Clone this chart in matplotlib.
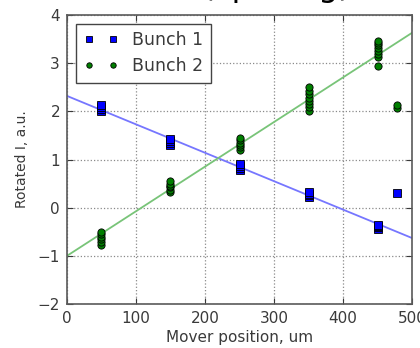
import numpy as np
import matplotlib
matplotlib.use("Agg")
import matplotlib.pyplot as plt

# Mover positions (um) and rotated intensity per bunch
pos_b1 = [50, 50, 50, 50, 150, 150, 150, 150, 250, 250, 250, 250,
          350, 350, 350, 350, 450, 450, 450, 450, 478]
val_b1 = [2.00, 2.05, 2.10, 2.13, 1.30, 1.35, 1.38, 1.42, 0.78, 0.82, 0.86, 0.90,
          0.22, 0.26, 0.29, 0.32, -0.45, -0.41, -0.38, -0.35, 0.30]

pos_b2 = [50, 50, 50, 50, 50, 50,
          150, 150, 150, 150, 150, 150,
          250, 250, 250, 250, 250, 250,
          350, 350, 350, 350, 350, 350, 350, 350,
          450, 450, 450, 450, 450, 450, 450, 450,
          478, 478]
val_b2 = [-0.78, -0.72, -0.65, -0.60, -0.55, -0.50,
          0.32, 0.37, 0.42, 0.46, 0.50, 0.55,
          1.20, 1.25, 1.30, 1.35, 1.40, 1.45,
          2.00, 2.08, 2.15, 2.22, 2.28, 2.35, 2.43, 2.50,
          2.95, 3.12, 3.20, 3.26, 3.32, 3.37, 3.42, 3.46,
          2.06, 2.14]

# Linear fits: intercept, slope
fit_b1 = (2.32, -0.0059)
fit_b2 = (-1.00, 0.00926)

xlim = (0, 500)
ylim = (-2, 4)
xticks = [0, 100, 200, 300, 400, 500]
yticks = [-2, -1, 0, 1, 2, 3, 4]

fig = plt.figure(figsize=(4.2, 3.48), dpi=100)
ax = fig.add_axes([0.1595, 0.1264, 0.8215, 0.8305])

xx = np.array(xlim, dtype=float)
ax.plot(xx, fit_b1[0] + fit_b1[1] * xx, color="#7676ff", lw=1.3, zorder=2)
ax.plot(xx, fit_b2[0] + fit_b2[1] * xx, color="#78c478", lw=1.3, zorder=2)

ax.plot(pos_b1, val_b1, "s", color="#0000ff", mec="black", mew=0.6, ms=6,
        label="Bunch 1", zorder=3)
ax.plot(pos_b2, val_b2, "o", color="#007f00", mec="black", mew=0.6, ms=5.2,
        label="Bunch 2", zorder=3)

ax.set_xlim(*xlim)
ax.set_ylim(*ylim)
ax.set_xticks(xticks)
ax.set_yticks(yticks)
ax.set_yticklabels(["\u22122", "\u22121", "0", "1", "2", "3", "4"])
ax.grid(True, color="#8a8a8a", linestyle=":", linewidth=0.9)
ax.tick_params(direction="in", top=True, right=True, length=4,
               labelsize=11, colors="#3a3a3a", pad=5)
for s in ax.spines.values():
    s.set_color("#5a5a5a")
    s.set_linewidth(1.2)

ax.set_xlabel("Mover position, um", fontsize=11, color="#3a3a3a", labelpad=3)
ax.set_ylabel("Rotated I, a.u.", fontsize=10, color="#3a3a3a", labelpad=6)

leg = ax.legend(loc="upper left", numpoints=2, fontsize=12.5, fancybox=False,
                framealpha=1, edgecolor="#444444", handlelength=2.0,
                borderaxespad=0.5, labelspacing=0.45, handletextpad=0.8,
                markerscale=0.75, borderpad=0.45)
leg.get_frame().set_linewidth(1.0)
for t in leg.get_texts():
    t.set_color("#3a3a3a")

fig.text(351 / 420, 1.012, "Mover scan (spacing)", ha="right", va="baseline",
         fontsize=23, color="black")

fig.savefig("out.png", dpi=100, facecolor="white")
